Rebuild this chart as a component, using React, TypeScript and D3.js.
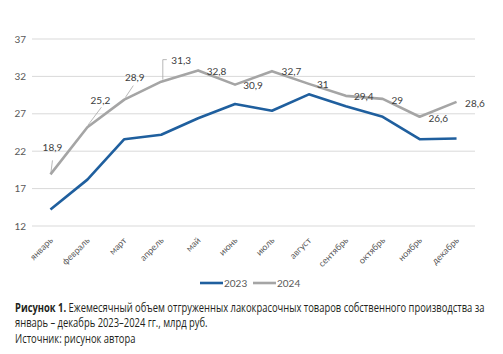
import React, { useEffect, useRef } from 'react';
import * as d3 from 'd3';

// данные графика
const months = ['январь', 'февраль', 'март', 'апрель', 'май', 'июнь', 'июль', 'август', 'сентябрь', 'октябрь', 'ноябрь', 'декабрь'];
const values2023 = [14.2, 18.2, 23.6, 24.2, 26.4, 28.3, 27.4, 29.6, 28.0, 26.6, 23.6, 23.7];
const values2024 = [18.9, 25.2, 28.9, 31.3, 32.8, 30.9, 32.7, 31, 29.4, 29, 26.6, 28.6];
const yTicks = [12, 17, 22, 27, 32, 37];
const seriesNames = ['2023', '2024'];

// сдвиги подписей значений 2024 (центр текста относительно точки) и выноски
const labelOffsets: [number, number][] = [
  [2, -27], [13, -27], [10.5, -22], [20, -21.6],
  [18.4, 0.6], [18, 0.8], [19.5, 0.8], [14, 0.8], [18, 1], [14.5, 1.2], [18.6, 1.6], [18.4, 1.6],
];
const leaders: ([number, number][] | null)[] = [
  [[0.5, -2], [2, -14]],
  [[0.5, -2], [14, -20]],
  [[1, -2], [9, -14]],
  [[1.6, -2], [1.6, -22], [5.6, -22]],
  null, null, null, null, null, null, null, null,
];

const W = 503;
const H = 354;
const FONT = 'Lato, "Open Sans", sans-serif';

const App: React.FC = () => {
  const ref = useRef<SVGSVGElement>(null);

  useEffect(() => {
    if (!ref.current) return;
    const svg = d3.select(ref.current);
    svg.selectAll('*').remove();

    const x = d3.scaleBand().domain(months).range([32, 475]).padding(0);
    const cx = (m: string) => (x(m) || 0) + x.bandwidth() / 2;
    const y = d3.scaleLinear().domain([12, 37]).range([226, 39]);

    // сетка
    svg.append('g')
      .selectAll('line')
      .data(yTicks)
      .enter()
      .append('line')
      .attr('x1', 32)
      .attr('x2', 475)
      .attr('y1', d => y(d))
      .attr('y2', d => y(d))
      .attr('stroke', '#d9d9d9')
      .attr('stroke-width', 1);

    // ось Y
    svg.append('g')
      .selectAll('text')
      .data(yTicks)
      .enter()
      .append('text')
      .attr('x', 26)
      .attr('y', d => y(d))
      .attr('dy', '0.35em')
      .attr('text-anchor', 'end')
      .attr('font-family', FONT)
      .attr('font-size', 10)
      .attr('fill', '#595959')
      .text(d => d);

    // ось X — месяцы под углом
    svg.append('g')
      .selectAll('text')
      .data(months)
      .enter()
      .append('text')
      .attr('transform', d => `translate(${cx(d) + 3},${241}) rotate(-45)`)
      .attr('text-anchor', 'end')
      .attr('font-family', FONT)
      .attr('font-size', 9)
      .attr('fill', '#595959')
      .text(d => d);

    const line = d3.line<number>()
      .x((_, i) => cx(months[i]))
      .y(d => y(d));

    svg.append('path')
      .attr('d', line(values2024) || '')
      .attr('fill', 'none')
      .attr('stroke', '#a5a5a5')
      .attr('stroke-width', 2.6)
      .attr('stroke-linejoin', 'round');

    svg.append('path')
      .attr('d', line(values2023) || '')
      .attr('fill', 'none')
      .attr('stroke', '#1f5f9e')
      .attr('stroke-width', 2.6)
      .attr('stroke-linejoin', 'round');

    // выноски
    leaders.forEach((pts, i) => {
      if (!pts) return;
      const px = cx(months[i]);
      const py = y(values2024[i]);
      svg.append('path')
        .attr('d', d3.line()(pts.map(([dx, dy]) => [px + dx, py + dy])) || '')
        .attr('fill', 'none')
        .attr('stroke', '#a6a6a6')
        .attr('stroke-width', 0.8);
    });

    // подписи значений 2024
    svg.append('g')
      .selectAll('text')
      .data(values2024)
      .enter()
      .append('text')
      .attr('x', (_, i) => cx(months[i]) + labelOffsets[i][0])
      .attr('y', (d, i) => y(d) + labelOffsets[i][1])
      .attr('dy', '0.35em')
      .attr('text-anchor', 'middle')
      .attr('font-family', FONT)
      .attr('font-size', 10)
      .attr('fill', '#404040')
      .text(d => String(d).replace('.', ','));

    // легенда
    const legend = svg.append('g').attr('font-family', FONT).attr('font-size', 10).attr('fill', '#595959');
    const legendX = [200, 253];
    const colors = ['#1f5f9e', '#a5a5a5'];
    seriesNames.forEach((name, i) => {
      legend.append('line')
        .attr('x1', legendX[i])
        .attr('x2', legendX[i] + 23)
        .attr('y1', 283)
        .attr('y2', 283)
        .attr('stroke', colors[i])
        .attr('stroke-width', 2.6);
      legend.append('text')
        .attr('x', legendX[i] + 24)
        .attr('y', 283)
        .attr('dy', '0.35em')
        .text(name);
    });

    // подпись рисунка — узкий шрифт имитируем сжатием по горизонтали
    const cap = svg.append('g')
      .attr('font-family', '"Open Sans", "Noto Sans", sans-serif')
      .attr('font-size', 12)
      .attr('fill', '#231f20');
    const t1 = cap.append('text').attr('x', 0).attr('y', 312);
    t1.append('tspan').attr('font-weight', 'bold').text('Рисунок 1.');
    t1.append('tspan').text(' Ежемесячный объем отгруженных лакокрасочных товаров собственного производства за');
    cap.append('text').attr('x', 0).attr('y', 327.5).text('январь – декабрь 2023–2024 гг., млрд руб.');
    cap.append('text').attr('x', 0).attr('y', 343).text('Источник: рисунок автора');
    const w1 = (t1.node() as SVGTextElement).getComputedTextLength() || 470;
    cap.attr('transform', `translate(15,0) scale(${470 / w1},1)`);
  }, []);

  return (
    <svg
      ref={ref}
      width={W}
      height={H}
      viewBox={`0 0 ${W} ${H}`}
      style={{ position: 'absolute', left: 0, top: 0, background: '#fff' }}
    />
  );
};

export default App;
